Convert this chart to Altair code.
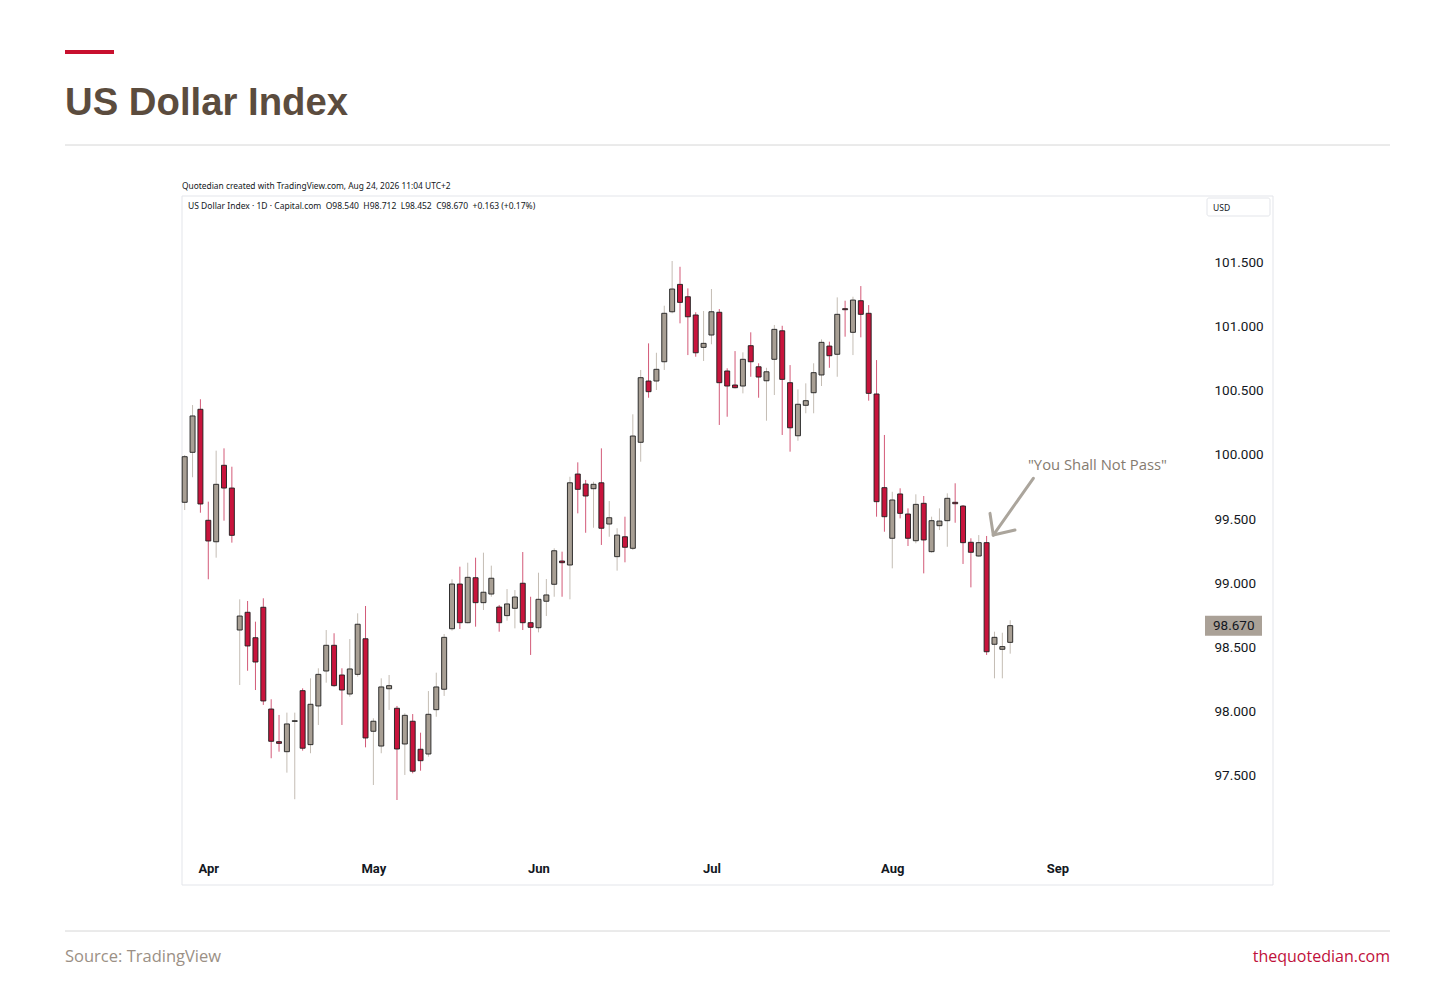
import altair as alt
import pandas as pd

# ---------------- data ----------------
opens = [99.630, 100.019, 100.354, 99.490, 99.323, 99.918, 99.741, 98.636, 98.774, 98.576,
         98.813, 98.021, 97.767, 97.689, 97.925, 98.164, 97.744, 98.045, 98.317, 98.517,
         98.286, 98.138, 98.291, 98.568, 97.848, 97.733, 98.179, 98.027, 97.749, 97.926,
         97.708, 97.671, 98.016, 98.175, 98.646, 98.994, 98.693, 99.043, 98.849, 98.916,
         98.815, 98.748, 98.805, 99.000, 98.693, 98.654, 98.860, 98.992, 99.173, 99.142,
         99.850, 99.772, 99.736, 99.782, 99.461, 99.207, 99.362, 99.272, 100.097, 100.574,
         100.574, 100.724, 101.113, 101.326, 101.230, 101.088, 100.836, 100.932, 101.109, 100.652,
         100.543, 100.535, 100.849, 100.685, 100.576, 100.743, 100.965, 100.561, 100.148, 100.385,
         100.483, 100.621, 100.846, 100.782, 101.137, 100.953, 101.199, 101.101, 100.473, 99.744,
         99.350, 99.695, 99.539, 99.331, 99.622, 99.246, 99.448, 99.487, 99.630, 99.601,
         99.319, 99.212, 99.316, 98.525, 98.486, 98.540]
highs = [99.998, 100.387, 100.432, 99.635, 100.032, 100.050, 99.907, 98.875, 98.862, 98.701,
         98.883, 98.097, 97.975, 97.993, 97.993, 98.182, 98.260, 98.338, 98.636, 98.611,
         98.338, 98.566, 98.766, 98.823, 97.949, 98.260, 98.286, 98.045, 97.988, 97.982,
         97.837, 98.161, 98.304, 98.605, 99.031, 99.129, 99.160, 99.199, 99.238, 99.137,
         98.831, 98.955, 98.947, 99.243, 98.895, 99.082, 99.033, 99.272, 99.246, 99.829,
         99.941, 99.804, 99.790, 100.050, 99.640, 99.428, 99.518, 100.315, 100.660, 100.867,
         100.794, 101.160, 101.508, 101.463, 101.295, 101.109, 101.119, 101.290, 101.134, 100.673,
         100.807, 100.797, 100.953, 100.712, 100.677, 101.010, 101.004, 100.698, 100.509, 100.556,
         100.712, 100.898, 100.880, 101.225, 101.199, 101.230, 101.313, 101.165, 100.737, 100.154,
         99.712, 99.739, 99.583, 99.692, 99.679, 99.518, 99.583, 99.700, 99.778, 99.609,
         99.350, 99.375, 99.368, 98.623, 98.615, 98.712]
lows = [99.570, 99.825, 99.549, 99.031, 99.199, 99.487, 99.316, 98.208, 98.319, 98.169,
        98.053, 97.638, 97.689, 97.526, 97.319, 97.697, 97.677, 97.897, 98.226, 98.195,
        97.897, 98.117, 98.273, 97.723, 97.430, 97.677, 98.014, 97.313, 97.508, 97.521,
        97.541, 97.650, 97.961, 98.123, 98.631, 98.644, 98.688, 98.662, 98.792, 98.895,
        98.623, 98.709, 98.649, 98.636, 98.442, 98.618, 98.745, 98.895, 98.895, 98.875,
        99.544, 99.393, 99.432, 99.298, 99.362, 99.098, 99.163, 99.259, 99.946, 100.444,
        100.504, 100.660, 101.101, 101.023, 100.776, 100.763, 100.730, 100.860, 100.232, 100.296,
        100.517, 100.478, 100.607, 100.444, 100.265, 100.465, 100.154, 100.024, 100.109, 100.323,
        100.323, 100.535, 100.677, 100.607, 100.919, 100.776, 100.914, 100.421, 99.518, 99.401,
        99.116, 99.505, 99.290, 99.311, 99.077, 99.238, 99.414, 99.284, 99.471, 99.150,
        98.968, 99.207, 98.442, 98.260, 98.260, 98.452]
closes = [99.985, 100.302, 99.617, 99.329, 99.770, 99.741, 99.373, 98.745, 98.512, 98.387,
          98.084, 97.770, 97.754, 97.905, 97.930, 97.716, 98.058, 98.291, 98.517, 98.203,
          98.169, 98.333, 98.681, 97.796, 97.926, 98.193, 98.203, 97.710, 97.972, 97.537,
          97.619, 97.980, 98.193, 98.579, 98.994, 98.693, 99.046, 98.849, 98.930, 99.039,
          98.693, 98.839, 98.893, 98.693, 98.657, 98.875, 98.909, 99.253, 99.160, 99.782,
          99.731, 99.679, 99.770, 99.428, 99.510, 99.375, 99.280, 100.146, 100.600, 100.491,
          100.665, 101.101, 101.290, 101.186, 101.074, 100.794, 100.867, 101.113, 100.561, 100.535,
          100.522, 100.743, 100.724, 100.605, 100.646, 100.976, 100.587, 100.210, 100.393, 100.421,
          100.639, 100.875, 100.771, 101.093, 101.129, 101.204, 101.093, 100.478, 99.635, 99.518,
          99.648, 99.544, 99.350, 99.614, 99.337, 99.487, 99.484, 99.661, 99.619, 99.316,
          99.241, 99.316, 98.467, 98.579, 98.507, 98.670]

month_names = ["Apr", "May", "Jun", "Jul", "Aug", "Sep"]
month_idx = [3, 24, 45, 67, 90, 111]
y_ticks = [97.5, 98.0, 98.5, 99.0, 99.5, 100.0, 100.5, 101.0, 101.5]

title_text = "US Dollar Index"
stamp_text = "Quotedian created with TradingView.com, Aug 24, 2026 11:04 UTC+2"
source_text = "Source: TradingView"
site_text = "thequotedian.com"
currency_text = "USD"

ann_text = ['"You Shall Not Pass"']
ann_text_x = [107.26]
ann_text_y = [99.912]
arrow_x = [107.94, 102.85, 102.85]
arrow_y = [99.817, 99.375, 99.375]
arrow_x2 = [102.85, 102.43, 105.61]
arrow_y2 = [99.375, 99.544, 99.414]

# ---------------- styling ----------------
W, H = 1022, 659
RED = "#c8143c"
RED_WICK = "#d35a78"
GRAY = "#a89f94"
GRAY_WICK = "#c4bdb4"
INK = "#131722"

n = len(closes)
df = pd.DataFrame({"i": list(range(n)), "open": opens, "high": highs,
                   "low": lows, "close": closes})
df["up"] = df["close"] >= df["open"]

o, h, l, c = opens[-1], highs[-1], lows[-1], closes[-1]
chg = c - closes[-2]
gap = " \u00a0"
legend_text = (f"US Dollar Index · 1D · Capital.com{gap}O{o:.3f}{gap}H{h:.3f}{gap}L{l:.3f}{gap}"
               f"C{c:.3f}{gap}{chg:+.3f} ({chg / closes[-2] * 100:+.2f}%)")

xs = alt.Scale(domain=[-0.343, 129.65], nice=False, zero=False, padding=0)
ys = alt.Scale(domain=[96.885, 102.014], nice=False, zero=False, padding=0)

label_expr = "".join(f"datum.value == {i} ? '{m}' : " for i, m in zip(month_idx, month_names)) + "''"
x_axis = alt.Axis(values=month_idx, labelExpr=label_expr, title=None, domain=False,
                  ticks=False, grid=False, labelFontSize=13, labelFontWeight="bold",
                  labelColor=INK, labelPadding=7, labelFont="Roboto")
y_axis = alt.Axis(orient="right", values=y_ticks, format=".3f", title=None, domain=False,
                  ticks=False, grid=False, labelFontSize=13.5, labelColor=INK,
                  labelPadding=10, labelFont="Roboto", labelAlign="left")


def X(f):
    return alt.X(f, type="quantitative", scale=xs, axis=x_axis)


def Y(f):
    return alt.Y(f, type="quantitative", scale=ys, axis=y_axis)


one = pd.DataFrame({"k": [0]})

# frame around the TradingView image
frame = alt.Chart(one).mark_rect(fill="white", fillOpacity=0, stroke="#e3e5ea", strokeWidth=1).encode(
    x=alt.value(0), x2=alt.value(1091), y=alt.value(0), y2=alt.value(689))

usd_box = alt.Chart(one).mark_rect(fill="white", stroke="#e3e5ea", strokeWidth=1, cornerRadius=2).encode(
    x=alt.value(1025), x2=alt.value(1088), y=alt.value(2), y2=alt.value(20))
usd_txt = alt.Chart(one).mark_text(text=currency_text, align="left", baseline="middle",
                                   fontSize=8.5, font="Noto Sans", color=INK).encode(
    x=alt.value(1031), y=alt.value(11.5))

wicks = alt.Chart(df).mark_rule(strokeWidth=1).encode(
    x=X("i"), y=Y("low"), y2="high",
    color=alt.when(alt.datum.up).then(alt.value(GRAY_WICK)).otherwise(alt.value(RED_WICK)))

bodies = alt.Chart(df).mark_bar(size=5, stroke="#1e1e1e", strokeWidth=0.9).encode(
    x=X("i"), y=Y("open"), y2="close",
    fill=alt.when(alt.datum.up).then(alt.value(GRAY)).otherwise(alt.value(RED)))

last = df.tail(1).copy()
last["label"] = [f"{c:.3f}"]
price_bg = alt.Chart(last).mark_rule(strokeWidth=20, strokeCap="butt", color="#aaa197").encode(
    x=alt.value(W + 1), x2=alt.value(W + 58), y=Y("close"))
price_txt = alt.Chart(last).mark_text(align="left", baseline="middle", fontSize=13.5,
                                      font="Roboto", color=INK).encode(
    x=alt.value(W + 9), y=Y("close"), text="label:N")

arrow_df = pd.DataFrame({"x": arrow_x, "y": arrow_y, "x2": arrow_x2, "y2": arrow_y2})
arrow = alt.Chart(arrow_df).mark_rule(strokeWidth=3, color="#aba59c", strokeCap="round").encode(
    x=X("x"), x2="x2", y=Y("y"), y2="y2")
ann_df = pd.DataFrame({"x": ann_text_x, "y": ann_text_y, "t": ann_text})
ann = alt.Chart(ann_df).mark_text(align="left", baseline="middle", fontSize=14.8,
                                  font="Open Sans", color="#857b70").encode(
    x=X("x"), y=Y("y"), text="t:N")

stamp = alt.Chart(one).mark_text(text=stamp_text, align="left", baseline="middle",
                                 fontSize=8.4, font="Noto Sans", color=INK).encode(
    x=alt.value(0), y=alt.value(-10))
legend = alt.Chart(one).mark_text(text=legend_text, align="left", baseline="middle",
                                  fontSize=8.5, font="Noto Sans", color=INK).encode(
    x=alt.value(6), y=alt.value(10))

red_bar = alt.Chart(one).mark_rule(strokeWidth=4, color="#c8102e").encode(
    x=alt.value(-117), x2=alt.value(-68), y=alt.value(-144))
title = alt.Chart(one).mark_text(text=title_text, align="left", baseline="alphabetic",
                                 fontSize=38.3, fontWeight="bold", font="Liberation Sans",
                                 color="#5b4c3e").encode(x=alt.value(-117), y=alt.value(-81))
top_line = alt.Chart(one).mark_rule(strokeWidth=1, color="#d6d6d6").encode(
    x=alt.value(-117), x2=alt.value(1208), y=alt.value(-51))
bottom_line = alt.Chart(one).mark_rule(strokeWidth=1, color="#d6d6d6").encode(
    x=alt.value(-117), x2=alt.value(1208), y=alt.value(735))
source = alt.Chart(one).mark_text(text=source_text, align="left", baseline="middle",
                                  fontSize=16.5, font="Open Sans",
                                  color="#9b9085").encode(x=alt.value(-117), y=alt.value(761))
site = alt.Chart(one).mark_text(text=site_text, align="right", baseline="middle",
                                fontSize=16, font="Open Sans",
                                color="#c0103a").encode(x=alt.value(1208), y=alt.value(761))

chart = alt.layer(
    frame, usd_box, usd_txt, wicks, bodies, price_bg, price_txt, arrow, ann,
    stamp, legend, red_bar, title, top_line, bottom_line, source, site,
).properties(
    width=W, height=H,
    padding={"left": 174, "top": 188, "right": 244, "bottom": 127},
    autosize=alt.AutoSizeParams(type="none"),
    background="white",
).configure_view(stroke=None)

chart.save("out.html", embed_options={"renderer": "svg", "actions": False})
